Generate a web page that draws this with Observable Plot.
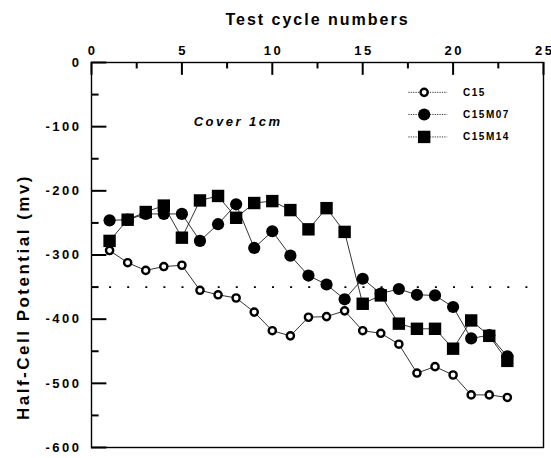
<!DOCTYPE html>
<html><head><meta charset="utf-8">
<script src="https://cdn.jsdelivr.net/npm/d3@7"></script>
<script src="https://cdn.jsdelivr.net/npm/@observablehq/plot@0.6"></script>
<style>
body{margin:0;background:#fff}
#chart svg{font-family:"Liberation Sans",Arial,sans-serif;background:#fff}
</style>
</head><body><div id="chart"></div>
<script>
const cycles = [1,2,3,4,5,6,7,8,9,10,11,12,13,14,15,16,17,18,19,20,21,22,23];
const c15    = [-293,-312,-324,-318,-316,-355,-362,-367,-389,-418,-426,-397,-396,-387,-418,-422,-439,-484,-474,-487,-518,-518,-522];
const c15m07 = [-246,-245,-236,-236,-236,-278,-252,-221,-289,-263,-301,-332,-346,-369,-337,-360,-353,-362,-363,-381,-430,-425,-458];
const c15m14 = [-278,-245,-233,-223,-273,-215,-208,-242,-219,-216,-230,-260,-227,-264,-376,-363,-407,-415,-415,-446,-402,-426,-465];
const seriesNames = ["C15","C15M07","C15M14"];
const seriesValues = [c15, c15m07, c15m14];
const xTicks = [0,5,10,15,20,25];
const xMinor = [2.5,7.5,12.5,17.5,22.5];
const yTicks = [0,-100,-200,-300,-400,-500,-600];
const yMinor = [-50,-150,-250,-350,-450,-550];
const threshold = -350;
const titleText = "Test cycle numbers";
const yLabelText = "Half-Cell Potential (mv)";
const noteText = "Cover 1cm";

const rows = seriesNames.flatMap((s, i) => cycles.map((c, j) => ({series: s, cycle: c, value: seriesValues[i][j]})));
const bySeries = s => rows.filter(d => d.series === s);

// symbol styles per series
const styles = {
  "C15":    {symbol: "circle", r: 3.6, fill: "white", stroke: "black", strokeWidth: 2.4},
  "C15M07": {symbol: "circle", r: 6.1, fill: "black", stroke: "none", strokeWidth: 0},
  "C15M14": {symbol: "square", r: 7.0, fill: "black", stroke: "none", strokeWidth: 0}
};
// legend layout (in chart units)
const legendX = {line1: 17.55, line2: 19.7, marker: 18.4, text: 20.55};
const legendY = [-46.5, -81, -116];
// tick lengths (in chart units)
const xTickLen = {major: 20, minor: 10};
const yTickLen = {major: 0.85, minor: 0.42};

const marks = [
  Plot.frame({stroke: "black", strokeWidth: 1.4}),
  Plot.ruleY([threshold], {stroke: "black", strokeWidth: 1.7, strokeDasharray: "2,16.1"}),
  // inward ticks
  Plot.ruleX(xTicks, {x: d => d, y1: () => 0, y2: () => -xTickLen.major, stroke: "#000", strokeWidth: 2}),
  Plot.ruleX(xMinor, {x: d => d, y1: () => 0, y2: () => -xTickLen.minor, stroke: "#000", strokeWidth: 2}),
  Plot.ruleY(yTicks, {y: d => d, x1: () => 0, x2: () => yTickLen.major, stroke: "#000", strokeWidth: 2}),
  Plot.ruleY(yMinor, {y: d => d, x1: () => 0, x2: () => yTickLen.minor, stroke: "#000", strokeWidth: 2}),
  Plot.axisX(xTicks, {anchor: "top", tickSize: 0, tickPadding: 8, label: null, fontSize: 13, fontWeight: "bold", tickFormat: d => `${d}`}),
  Plot.axisY(yTicks, {anchor: "left", tickSize: 0, tickPadding: 10, label: null, fontSize: 13, fontWeight: "bold", tickFormat: d => `${d}`}),
  Plot.line(rows, {x: "cycle", y: "value", z: "series", stroke: "black", strokeWidth: 0.8})
];
seriesNames.forEach((s, i) => {
  const st = styles[s];
  marks.push(Plot.dot(bySeries(s), {x: "cycle", y: "value", ...st}));
  // legend
  marks.push(Plot.ruleY([legendY[i]], {x1: legendX.line1, x2: legendX.line2, stroke: "black", strokeWidth: 0.8, strokeDasharray: "1.2,1.2"}));
  marks.push(Plot.dot([s], {x: () => legendX.marker, y: () => legendY[i], ...st}));
  marks.push(Plot.text([s], {x: () => legendX.text, y: () => legendY[i], text: d => d, textAnchor: "start", fontSize: 10, fontWeight: "bold"}));
});
marks.push(Plot.text([noteText], {x: () => 5.65, y: () => -93, text: d => d, textAnchor: "start", fontSize: 13, fontWeight: "bold", fontStyle: "italic"}));
marks.push(Plot.text([titleText], {frameAnchor: "top", dy: -49, text: d => d, textAnchor: "middle", fontSize: 16, fontWeight: "bold"}));
marks.push(Plot.text([yLabelText], {frameAnchor: "left", rotate: -90, dx: -68, dy: 42, text: d => d, textAnchor: "middle", fontSize: 17, fontWeight: "bold"}));

const chart = Plot.plot({
  width: 551, height: 458,
  marginLeft: 91, marginRight: 8, marginTop: 62, marginBottom: 11,
  x: {domain: [0, 25]},
  y: {domain: [-600, 0]},
  marks
});
document.getElementById("chart").appendChild(chart);
const svg = d3.select(chart);
const spacing = new Map([[titleText, "2px"], [yLabelText, "2.5px"], [noteText, "2.5px"]]);
seriesNames.forEach(s => spacing.set(s, "1.5px"));
svg.selectAll("text").each(function () {
  const t = this.textContent;
  if (spacing.has(t)) d3.select(this).style("letter-spacing", spacing.get(t));
});
svg.selectAll('g[aria-label="x-axis tick label"] text').style("letter-spacing", "2.5px").attr("dx", 1.2);
svg.selectAll('g[aria-label="y-axis tick label"] text').style("letter-spacing", "2.5px");
</script>
</body></html>
